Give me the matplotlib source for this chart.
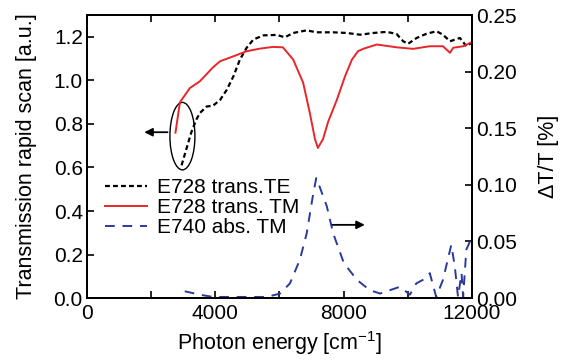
import numpy as np
import matplotlib
matplotlib.use('Agg')
import matplotlib.pyplot as plt
from matplotlib.patches import Ellipse

plt.rcParams['font.family'] = ['Liberation Sans', 'DejaVu Sans']
plt.rcParams['mathtext.fontset'] = 'custom'
plt.rcParams['mathtext.rm'] = 'Liberation Sans'

# E728 trans. TE (left axis)
te_x = [2950, 3250, 3410, 3520, 3730, 3930, 4150, 4360, 4570, 4770, 4980, 5190, 5500, 5920,
        6170, 6430, 6850, 7160, 7680, 8100, 8520, 8930, 9340, 9650, 9860, 10010, 10280,
        10580, 10900, 11100, 11320, 11630, 11830, 11990]
te_y = [0.61, 0.76, 0.82, 0.85, 0.88, 0.884, 0.91, 0.957, 1.02, 1.096, 1.15, 1.188, 1.207, 1.209,
        1.198, 1.218, 1.23, 1.221, 1.221, 1.218, 1.21, 1.218, 1.223, 1.214, 1.18, 1.168, 1.195,
        1.214, 1.226, 1.21, 1.18, 1.195, 1.157, 1.172]

# E728 trans. TM (left axis)
tm_x = [2760, 2900, 3210, 3520, 3930, 4150, 4550, 4980, 5390, 5800, 6110, 6430, 6740, 6950,
        7110, 7200, 7360, 7520, 7790, 8050, 8260, 8450, 8610, 9040, 9660, 10170, 10690,
        11100, 11320, 11420, 11730, 11990]
tm_y = [0.76, 0.90, 0.965, 0.996, 1.06, 1.088, 1.11, 1.134, 1.146, 1.154, 1.152, 1.096, 0.99, 0.85,
        0.73, 0.69, 0.73, 0.81, 0.91, 1.02, 1.095, 1.134, 1.145, 1.165, 1.152, 1.145, 1.157,
        1.157, 1.127, 1.15, 1.157, 1.175]

# E740 abs. TM (right axis, dT/T in %)
abs_x = [3050, 3520, 3930, 4980, 5610, 6020, 6330, 6640, 6850, 7060, 7150, 7260, 7480, 7680,
         8010, 8420, 8820, 9140, 9450, 9760, 10070, 10270, 10470, 10690, 10890, 11100, 11360,
         11470, 11570, 11680, 11730, 11830, 11960, 12000]
abs_y = [0.006, 0.003, 0.001, 0.001, 0.001, 0.004, 0.013, 0.034, 0.057, 0.093, 0.106, 0.098, 0.081,
         0.057, 0.031, 0.016, 0.007, 0.004, 0.007, 0.010, 0.003, 0.013, 0.016, 0.022, 0.001, 0.016,
         0.047, 0.028, 0.001, 0.022, 0.001, 0.043, 0.051, 0.05]

fig = plt.figure(figsize=(5.61, 3.6), dpi=100)
ax = fig.add_axes([0.155, 0.172, 0.686, 0.786])
ax2 = ax.twinx()

l1, = ax.plot(te_x, te_y, color='black', lw=1.6, ls=(0, (2.2, 1.4)), label='E728 trans.TE')
l2, = ax.plot(tm_x, tm_y, color='#e8262a', lw=1.4, label='E728 trans. TM')
l3, = ax2.plot(abs_x, abs_y, color='#2b3a9a', lw=1.4, ls=(0, (5, 4)), label='E740 abs. TM')

ax.set_xlim(0, 12000)
ax.set_ylim(0, 1.3)
ax2.set_ylim(0, 0.25)
ax.set_xticks([0, 4000, 8000, 12000])
ax.set_xticks([2000, 6000, 10000], minor=True)
ax.set_yticks(np.arange(0, 1.21, 0.2))
ax2.set_yticks(np.arange(0, 0.251, 0.05))
ax.yaxis.set_major_formatter(matplotlib.ticker.FormatStrFormatter('%.1f'))
ax2.yaxis.set_major_formatter(matplotlib.ticker.FormatStrFormatter('%.2f'))

for a in (ax, ax2):
    a.tick_params(direction='in', length=5, width=1.2, labelsize=15, pad=3)
    a.tick_params(which='minor', direction='in', length=5, width=1.2)
    for s in a.spines.values():
        s.set_linewidth(1.4)
ax.tick_params(top=True, which='both')
ax.tick_params(axis='x', pad=4)

ax.set_xlabel('Photon energy [cm$^{-1}$]', fontsize=15.5, labelpad=5)
ax.set_ylabel('Transmission rapid scan [a.u.]', fontsize=15.5, labelpad=12)
ax2.set_ylabel(r'ΔT/T [%]', fontsize=15.5, labelpad=15)

# annotations
ax.add_patch(Ellipse((2977, 0.744), 780, 0.31, fill=False, color='black', lw=1.0))
ax.annotate('', xy=(1700, 0.762), xytext=(2600, 0.762),
            arrowprops=dict(arrowstyle='-|>', color='black', lw=1.3, mutation_scale=12))
ax2.annotate('', xy=(8750, 0.0647), xytext=(7570, 0.0647),
             arrowprops=dict(arrowstyle='-|>', color='black', lw=1.3, mutation_scale=12))

ax2.legend(handles=[l1, l2, l3], loc='upper left', bbox_to_anchor=(0.01, 0.475),
           frameon=False, fontsize=15, handlelength=2.0, handletextpad=0.5,
           labelspacing=0.05, borderpad=0.2)

fig.savefig('out.png', dpi=100)
